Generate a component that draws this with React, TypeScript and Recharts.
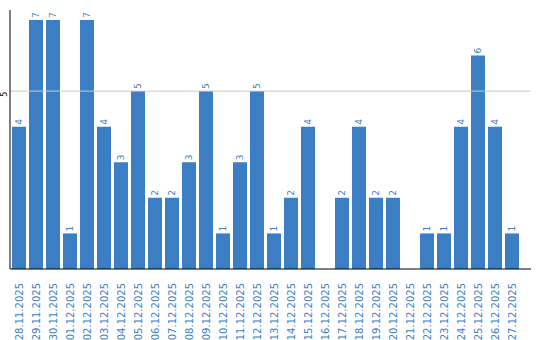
import React from "react";
import { BarChart, Bar, XAxis, YAxis, ReferenceLine, LabelList } from "recharts";

const dates = [
  "28.11.2025", "29.11.2025", "30.11.2025", "01.12.2025", "02.12.2025", "03.12.2025",
  "04.12.2025", "05.12.2025", "06.12.2025", "07.12.2025", "08.12.2025", "09.12.2025",
  "10.12.2025", "11.12.2025", "12.12.2025", "13.12.2025", "14.12.2025", "15.12.2025",
  "16.12.2025", "17.12.2025", "18.12.2025", "19.12.2025", "20.12.2025", "21.12.2025",
  "22.12.2025", "23.12.2025", "24.12.2025", "25.12.2025", "26.12.2025", "27.12.2025",
];
const values = [4, 7, 7, 1, 7, 4, 3, 5, 2, 2, 3, 5, 1, 3, 5, 1, 2, 4, 0, 2, 4, 2, 2, 0, 1, 1, 4, 6, 4, 1];
const yTicks = [5];

const data = dates.map((d, i) => ({ date: d, value: values[i] }));

const BLUE = "#3b7ec3";
const FONT = "'DejaVu Sans', sans-serif";

const XTick = (props: any) => {
  const { x, y, payload } = props;
  return (
    <text
      transform={`translate(${x + 4},${y}) rotate(-90)`}
      textAnchor="end"
      fontSize={10}
      fontFamily={FONT}
      fill={BLUE}
    >
      {payload.value}
    </text>
  );
};

const YTick = (props: any) => {
  const { y, payload } = props;
  return (
    <text
      transform={`translate(7,${y + 3}) rotate(-90)`}
      textAnchor="middle"
      fontSize={8}
      fontFamily={FONT}
      fill="#000"
    >
      {payload.value}
    </text>
  );
};

const ValueLabel = (props: any) => {
  const { x, y, width, value } = props;
  if (!value) return null;
  const cx = x + width / 2 + 3;
  return (
    <text
      transform={`translate(${cx},${y - 2}) rotate(-90)`}
      textAnchor="start"
      fontSize={9}
      fontFamily={FONT}
      fill={BLUE}
    >
      {value}
    </text>
  );
};

export default function App() {
  return (
    <div style={{ width: 540, height: 340 }}>
      <style>{`body{margin:0}`}</style>
      <BarChart
        width={540}
        height={340}
        data={data}
        margin={{ top: 10, right: 9, bottom: 0, left: 0 }}
        barSize={14}
      >
        {yTicks.map((t) => (
          <ReferenceLine key={t} y={t} stroke="#c8c8c8" />
        ))}
        <XAxis
          dataKey="date"
          interval={0}
          height={71}
          tickLine={false}
          tickMargin={8}
          tick={<XTick />}
          axisLine={{ stroke: "#000" }}
          padding={{ left: 0, right: 11 }}
        />
        <YAxis
          width={10}
          domain={[0, 7.28]}
          ticks={yTicks}
          tickLine={false}
          tick={<YTick />}
          axisLine={{ stroke: "#000" }}
        />
        <Bar dataKey="value" fill={BLUE} isAnimationActive={false}>
          <LabelList dataKey="value" content={<ValueLabel />} />
        </Bar>
      </BarChart>
    </div>
  );
}
